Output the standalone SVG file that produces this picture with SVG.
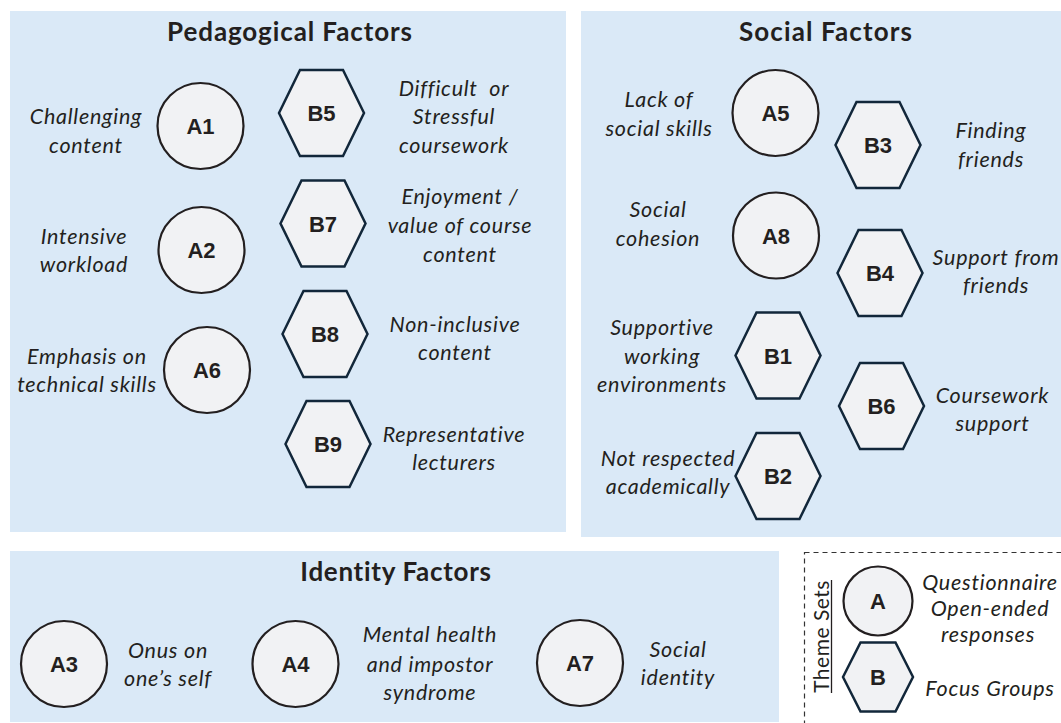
<svg xmlns="http://www.w3.org/2000/svg" xmlns:xlink="http://www.w3.org/1999/xlink" width="1061" height="723" viewBox="0 0 1061 723">
<style>
.panel{fill:#DAE9F7;}
.circ{fill:#F1F2F4;stroke:#231F20;stroke-width:2.2;}
.hex{fill:#F1F2F4;stroke:#12273A;stroke-width:2.5;stroke-linejoin:miter;}
.lbl{font-family:"Liberation Sans",Arial,sans-serif;font-weight:bold;font-size:22px;fill:#231F20;text-anchor:middle;}
.desc{font-family:Lato,"Open Sans",sans-serif;font-style:italic;font-size:21.5px;letter-spacing:0.75px;fill:#231F20;text-anchor:middle;}
.title{font-family:Lato,"Open Sans",sans-serif;font-weight:bold;font-size:26px;letter-spacing:0.9px;fill:#231F20;text-anchor:middle;}
.leg{font-family:Lato,"Open Sans",sans-serif;font-size:21px;letter-spacing:0.5px;fill:#231F20;text-anchor:middle;}
</style>
<defs>
<path id="hex" d="M-42.5,0 L-21.5,-43 L21.5,-43 L42.5,0 L21.5,43 L-21.5,43 Z"/>
<path id="hexs" d="M-35,0 L-17.5,-34.5 L17.5,-34.5 L35,0 L17.5,34.5 L-17.5,34.5 Z"/>
</defs>
<rect width="1061" height="723" fill="#FFFFFF"/>

<g id="panels">
<rect class="panel" x="10" y="11" width="556" height="521"/>
<rect class="panel" x="581" y="11" width="480" height="526"/>
<rect class="panel" x="10" y="551" width="769" height="171"/>
<text class="title" x="290" y="41">Pedagogical Factors</text>
<text class="title" x="826" y="41" style="letter-spacing:1.1px">Social Factors</text>
<text class="title" x="396" y="581" style="letter-spacing:0.7px">Identity Factors</text>
</g>

<g id="connectors"></g>

<!-- Pedagogical -->
<g id="A1">
<circle class="circ" cx="200.5" cy="126" r="43"/>
<text class="lbl" x="200.5" y="134">A1</text>
<text class="desc" x="86" y="124">Challenging</text>
<text class="desc" x="86" y="153">content</text>
</g>
<g id="A2">
<circle class="circ" cx="201.5" cy="250" r="43"/>
<text class="lbl" x="201.5" y="258">A2</text>
<text class="desc" x="84" y="244">Intensive</text>
<text class="desc" x="84" y="272">workload</text>
</g>
<g id="A6">
<circle class="circ" cx="207" cy="370" r="43"/>
<text class="lbl" x="207" y="378">A6</text>
<text class="desc" x="87" y="364">Emphasis on</text>
<text class="desc" x="87" y="392">technical skills</text>
</g>
<g id="B5">
<use xlink:href="#hex" class="hex" transform="translate(321.5,113)"/>
<text class="lbl" x="321.5" y="121">B5</text>
<text class="desc" x="454" y="96" xml:space="preserve">Difficult  or</text>
<text class="desc" x="454" y="124">Stressful</text>
<text class="desc" x="454" y="152.5">coursework</text>
</g>
<g id="B7">
<use xlink:href="#hex" class="hex" transform="translate(323,223.5)"/>
<text class="lbl" x="323" y="231.5">B7</text>
<text class="desc" x="460" y="204">Enjoyment /</text>
<text class="desc" x="460" y="233">value of course</text>
<text class="desc" x="460" y="261.5">content</text>
</g>
<g id="B8">
<use xlink:href="#hex" class="hex" transform="translate(325,334)"/>
<text class="lbl" x="325" y="342">B8</text>
<text class="desc" x="455" y="331.5">Non-inclusive</text>
<text class="desc" x="455" y="360">content</text>
</g>
<g id="B9">
<use xlink:href="#hex" class="hex" transform="translate(328,444)"/>
<text class="lbl" x="328" y="452">B9</text>
<text class="desc" x="454" y="441.5">Representative</text>
<text class="desc" x="454" y="470">lecturers</text>
</g>

<!-- Social -->
<g id="A5">
<circle class="circ" cx="775.5" cy="113" r="43"/>
<text class="lbl" x="775.5" y="121">A5</text>
<text class="desc" x="659" y="107">Lack of</text>
<text class="desc" x="659" y="136">social skills</text>
</g>
<g id="A8">
<circle class="circ" cx="776" cy="235.5" r="43"/>
<text class="lbl" x="776" y="243.5">A8</text>
<text class="desc" x="658" y="216.5">Social</text>
<text class="desc" x="658" y="246">cohesion</text>
</g>
<g id="B3">
<use xlink:href="#hex" class="hex" transform="translate(878,145)"/>
<text class="lbl" x="878" y="153">B3</text>
<text class="desc" x="991" y="138">Finding</text>
<text class="desc" x="991" y="166.5">friends</text>
</g>
<g id="B4">
<use xlink:href="#hex" class="hex" transform="translate(880,273)"/>
<text class="lbl" x="880" y="281">B4</text>
<text class="desc" x="996" y="265">Support from</text>
<text class="desc" x="996" y="293">friends</text>
</g>
<g id="B1">
<use xlink:href="#hex" class="hex" transform="translate(778,355.5)"/>
<text class="lbl" x="778" y="363.5">B1</text>
<text class="desc" x="662" y="335">Supportive</text>
<text class="desc" x="662" y="364">working</text>
<text class="desc" x="662" y="391.5">environments</text>
</g>
<g id="B6">
<use xlink:href="#hex" class="hex" transform="translate(881.5,406)"/>
<text class="lbl" x="881.5" y="414">B6</text>
<text class="desc" x="992.5" y="402.5">Coursework</text>
<text class="desc" x="992.5" y="431">support</text>
</g>
<g id="B2">
<use xlink:href="#hex" class="hex" transform="translate(778,476)"/>
<text class="lbl" x="778" y="484">B2</text>
<text class="desc" x="668" y="465.5">Not respected</text>
<text class="desc" x="668" y="494">academically</text>
</g>

<!-- Identity -->
<g id="A3">
<circle class="circ" cx="64" cy="664" r="43"/>
<text class="lbl" x="64" y="672">A3</text>
<text class="desc" x="168" y="658">Onus on</text>
<text class="desc" x="168" y="686">one’s self</text>
</g>
<g id="A4">
<circle class="circ" cx="295.5" cy="664" r="43"/>
<text class="lbl" x="295.5" y="672">A4</text>
<text class="desc" x="430" y="642">Mental health</text>
<text class="desc" x="430" y="671.5">and impostor</text>
<text class="desc" x="430" y="700">syndrome</text>
</g>
<g id="A7">
<circle class="circ" cx="580" cy="663" r="43"/>
<text class="lbl" x="580" y="671">A7</text>
<text class="desc" x="678" y="657">Social</text>
<text class="desc" x="678" y="685">identity</text>
</g>

<!-- Legend -->
<g id="legend">
<rect x="804.5" y="552.5" width="270" height="190" fill="none" stroke="#333333" stroke-width="1.2" stroke-dasharray="5,4"/>
<text class="leg" transform="translate(829,636.5) rotate(-90)">Theme Sets</text>
<line x1="831.5" y1="580" x2="831.5" y2="693" stroke="#231F20" stroke-width="1.3"/>
</g>
<g id="legend-A">
<circle class="circ" cx="878" cy="601" r="34.5"/>
<text class="lbl" x="878" y="609">A</text>
<text class="desc" x="990" y="590">Questionnaire</text>
<text class="desc" x="990" y="616">Open-ended</text>
<text class="desc" x="988" y="642">responses</text>
</g>
<g id="legend-B">
<use xlink:href="#hexs" class="hex" transform="translate(878,677)"/>
<text class="lbl" x="878" y="685">B</text>
<text class="desc" x="990" y="696">Focus Groups</text>
</g>
</svg>
